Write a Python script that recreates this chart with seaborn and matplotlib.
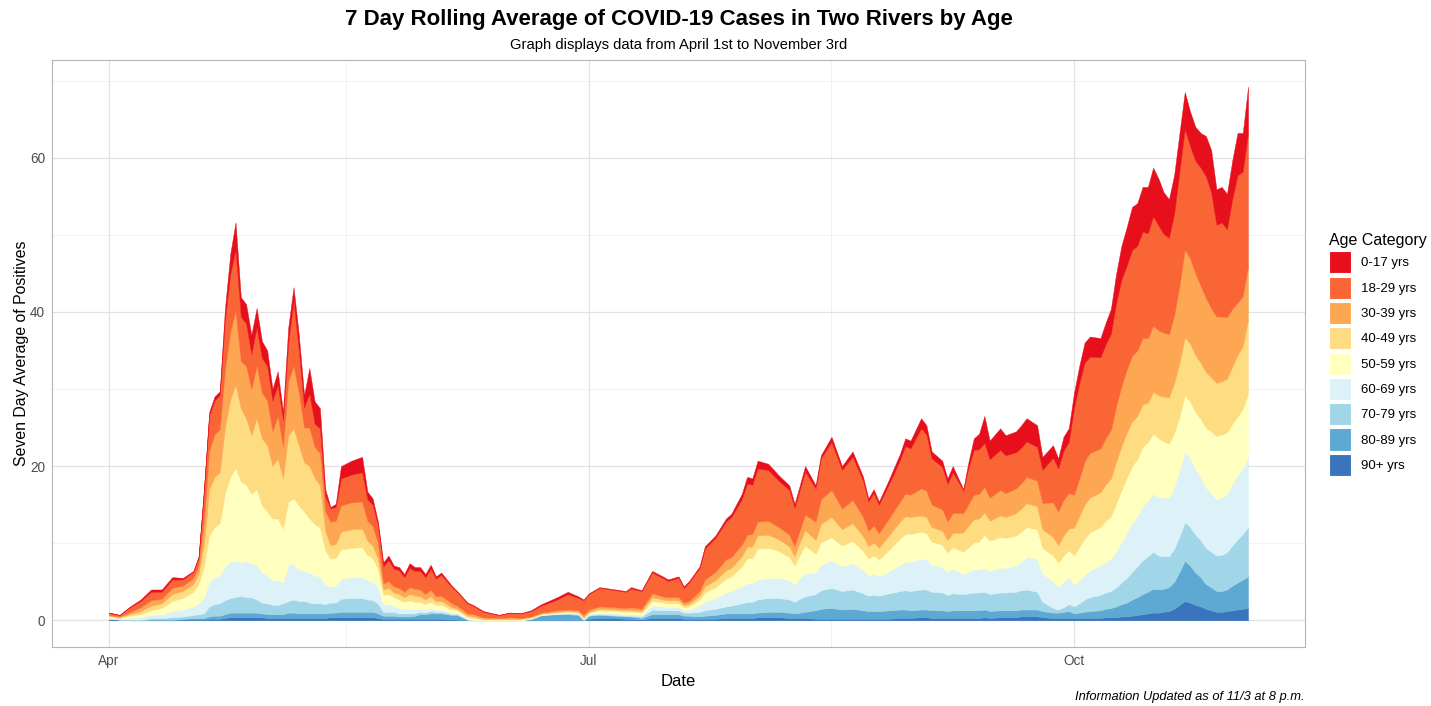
import matplotlib
matplotlib.use("Agg")

import pandas as pd
import matplotlib.pyplot as plt
from matplotlib.patches import Patch
import seaborn as sns

# -------------------------
# DATA
# -------------------------
start_date = "2020-04-01"

# days after April 1st
day_offsets = [
    0, 2, 4, 6, 8, 10, 12, 14, 16, 17,
    18, 19, 20, 21, 22, 23, 24, 25, 26, 27,
    28, 29, 30, 31, 32, 33, 34, 35, 36, 37,
    38, 39, 40, 41, 42, 43, 44, 46, 48, 49,
    50, 51, 52, 53, 54, 55, 56, 57, 58, 59,
    60, 61, 62, 63, 65, 66, 68, 69, 71, 74,
    76, 78, 80, 82, 85, 87, 89, 90, 91, 93,
    96, 98, 99, 101, 103, 105, 106, 108, 109, 110,
    112, 113, 115, 117, 118, 120, 121, 122, 123, 125,
    127, 129, 130, 131, 132, 134, 135, 137, 139, 141,
    143, 144, 145, 146, 148, 150, 151, 152, 154, 155,
    156, 158, 159, 160, 162, 163, 164, 165, 166, 167,
    169, 170, 172, 173, 174, 176, 177, 179, 180, 181,
    182, 183, 184, 185, 186, 188, 189, 190, 191, 192,
    193, 194, 195, 196, 197, 198, 199, 200, 201, 202,
    203, 204, 205, 206, 207, 208, 209, 210, 211, 212,
    213, 214, 215, 216,
]

age_90 = [
    .2, .1, 0, 0, 0, 0, 0, .1, .1, .1,
    .1, .2, .2, .2, .3, .4, .4, .4, .4, .4,
    .4, .4, .3, .3, .3, .3, .3, .3, .3, .3,
    .3, .3, .3, .3, .4, .4, .4, .4, .4, .4,
    .4, .3, .2, .2, .2, .2, .2, .2, .2, .2,
    .2, .2, .2, .2, .1, .1, 0, 0, 0, 0,
    0, 0, 0, 0, 0, 0, 0, 0, .2, .3,
    .3, .2, .2, .1, .3, .3, .3, .3, .2, .2,
    .2, .2, .2, .3, .3, .3, .3, .3, .4, .4,
    .4, .3, .3, .3, .3, .2, .2, .2, .2, .2,
    .2, .2, .2, .2, .2, .3, .3, .3, .4, .4,
    .3, .3, .3, .3, .3, .3, .3, .3, .4, .3,
    .4, .4, .4, .5, .5, .5, .4, .3, .3, .3,
    .3, .3, .3, .3, .3, .3, .4, .4, .4, .5,
    .5, .6, .7, .8, .9, 1.0, 1.0, 1.1, 1.2, 1.5,
    2.0, 2.5, 2.3, 2.0, 1.8, 1.5, 1.3, 1.1, 1.1, 1.2,
    1.3, 1.4, 1.5, 1.6,
]

age_80 = [
    0, 0, 0, 0, .1, .1, .1, .1, .2, .2,
    .2, .3, .4, .4, .5, .6, .6, .6, .6, .6,
    .6, .5, .5, .5, .5, .5, .7, .7, .6, .6,
    .6, .6, .6, .6, .6, .6, .7, .7, .7, .7,
    .7, .6, .4, .4, .4, .3, .3, .3, .4, .6,
    .6, .7, .7, .7, .6, .6, .1, 0, 0, 0,
    0, 0, .2, .7, .8, .8, .7, 0, .4, .4,
    .3, .3, .3, .2, .5, .5, .5, .5, .4, .4,
    .3, .4, .5, .6, .6, .6, .6, .6, .6, .7,
    .7, .7, .6, .7, .8, 1.1, 1.3, 1.4, 1.2, 1.3,
    1.1, 1.0, 1.0, 1.0, 1.1, 1.1, 1.1, 1.0, 1.0, 1.0,
    1.0, 1.0, .9, 1.0, 1.0, 1.0, 1.0, 1.0, 1.0, .9,
    .9, .9, .9, .9, .9, .9, .8, .7, .7, .8,
    .9, .6, .7, .8, .9, 1.0, 1.1, 1.2, 1.4, 1.6,
    1.8, 2.1, 2.3, 2.6, 2.8, 3.1, 3.0, 3.0, 3.1, 3.5,
    4.3, 5.2, 4.8, 4.2, 3.8, 3.2, 3.0, 2.7, 2.7, 2.8,
    3.2, 3.5, 3.8, 4.1,
]

age_70 = [
    0, 0, .1, .1, .2, .2, .3, .3, .4, .5,
    .6, 1.3, 1.5, 1.6, 1.8, 1.9, 2.0, 2.2, 2.0, 2.0,
    1.7, 1.4, 1.4, 1.2, 1.2, 1.4, 1.5, 1.7, 1.6, 1.6,
    1.4, 1.3, 1.3, 1.2, 1.3, 1.3, 1.7, 1.8, 1.8, 1.6,
    1.5, 1.3, .5, .5, .5, .4, .4, .4, .3, .3,
    .2, .3, .2, .2, .1, .1, 0, 0, 0, 0,
    0, 0, 0, 0, 0, .1, .1, .1, .1, .1,
    .1, .1, .1, .2, .6, .5, .5, .5, .4, .4,
    .6, .7, .8, .9, 1.0, 1.3, 1.5, 1.5, 1.7, 1.8,
    1.8, 1.7, 1.5, 1.8, 2.0, 2.1, 2.4, 2.6, 2.4, 2.5,
    2.2, 2.0, 2.1, 2.0, 2.2, 2.4, 2.5, 2.5, 2.6, 2.6,
    2.4, 2.3, 2.1, 2.2, 2.1, 2.2, 2.3, 2.3, 2.3, 2.2,
    2.3, 2.3, 2.4, 2.5, 2.6, 2.3, 1.2, .6, .4, .6,
    .9, .9, 1.2, 1.6, 1.8, 2.0, 2.1, 2.2, 2.5, 2.8,
    3.2, 3.6, 4.0, 4.4, 4.6, 4.8, 4.4, 4.2, 4.0, 4.3,
    4.6, 5.0, 5.0, 4.9, 4.8, 4.7, 4.6, 4.6, 4.7, 4.8,
    5.2, 5.6, 5.9, 6.4,
]

age_60 = [
    .1, .1, .2, .3, .4, .5, .8, .9, 1.1, 1.4,
    2.0, 3.2, 3.5, 3.6, 4.4, 4.7, 4.7, 4.3, 4.7, 4.3,
    4.5, 3.9, 3.6, 3.2, 3.2, 2.7, 4.7, 4.6, 4.1, 3.9,
    3.9, 3.6, 3.5, 2.5, 2.1, 2.2, 2.6, 2.7, 2.7, 2.5,
    2.4, 2.1, 1.0, 1.0, .8, .7, .6, .6, .5, .4,
    .4, .4, .3, .3, .2, .2, .1, .1, 0, 0,
    0, 0, 0, 0, .1, .1, .1, .1, .1, .2,
    .2, .2, .2, .2, .5, .5, .4, .4, .3, .4,
    .8, 1.1, 1.4, 1.8, 1.9, 2.2, 2.4, 2.4, 2.6, 2.6,
    2.6, 2.5, 2.2, 2.7, 3.0, 2.8, 3.3, 3.6, 3.2, 3.4,
    3.0, 2.6, 2.7, 2.5, 2.9, 3.4, 3.7, 3.8, 4.0, 3.9,
    3.5, 3.3, 3.0, 3.2, 2.6, 2.8, 3.0, 3.0, 3.1, 3.0,
    3.2, 3.2, 3.4, 3.7, 4.2, 4.3, 3.7, 3.4, 3.0, 3.3,
    3.5, 2.8, 3.0, 3.2, 3.5, 3.8, 4.0, 4.2, 4.7, 5.2,
    5.8, 6.3, 6.5, 7.0, 7.2, 7.5, 7.6, 7.6, 7.6, 8.0,
    8.5, 9.2, 9.0, 8.5, 8.2, 7.8, 7.6, 7.3, 7.4, 7.6,
    8.0, 8.3, 8.5, 9.1,
]

age_50 = [
    .2, .1, .3, .4, .6, .8, 1.3, 1.5, 1.9, 2.5,
    4.0, 6.0, 6.5, 6.8, 9.5, 11.0, 12.0, 10.5, 9.9, 9.1,
    9.8, 8.7, 8.3, 8.0, 8.0, 7.0, 8.2, 8.5, 8.3, 7.7,
    7.0, 6.7, 6.3, 4.5, 3.6, 3.6, 3.8, 3.8, 3.9, 3.3,
    3.0, 2.4, 1.2, 1.3, 1.1, 1.1, .9, 1.1, 1.0, .9,
    .7, .8, .6, .6, .4, .3, .2, .2, .1, .1,
    .1, .1, .1, .1, .1, .1, .1, .1, .2, .3,
    .3, .3, .3, .3, .6, .5, .5, .5, .4, .4,
    .8, 1.2, 1.4, 1.8, 1.9, 2.6, 3.2, 3.3, 4.0, 3.9,
    3.5, 3.0, 2.5, 3.0, 3.6, 2.4, 2.9, 3.0, 2.7, 2.9,
    2.5, 2.2, 2.4, 2.2, 2.8, 3.4, 3.6, 3.6, 3.5, 3.4,
    3.0, 2.9, 2.5, 2.8, 2.9, 3.2, 3.5, 3.6, 4.3, 3.9,
    4.0, 3.9, 3.9, 3.9, 3.9, 3.8, 3.3, 3.4, 3.1, 3.4,
    3.5, 3.8, 4.3, 4.7, 4.9, 5.0, 5.3, 5.5, 6.2, 6.8,
    7.2, 7.4, 7.4, 7.7, 7.6, 7.8, 7.6, 7.3, 7.0, 7.0,
    7.0, 7.3, 7.3, 7.4, 7.5, 7.8, 8.0, 8.2, 8.2, 8.0,
    7.8, 7.6, 7.8, 8.2,
]

age_40 = [
    .1, .1, .2, .4, .6, .6, .9, .9, 1.0, 1.4,
    3.0, 6.0, 6.5, 6.6, 8.5, 10.0, 10.8, 9.5, 8.6, 7.6,
    9.2, 8.7, 8.6, 6.8, 7.8, 6.5, 8.6, 9.1, 7.8, 6.4,
    6.8, 6.0, 5.5, 2.5, 1.7, 1.8, 2.3, 2.4, 2.4, 1.8,
    1.7, 1.3, .7, .8, .6, .7, .6, .8, .8, .7,
    .6, .7, .5, .5, .3, .2, .2, .2, .1, .1,
    .1, .1, .1, .1, .1, .1, .1, .1, .1, .2,
    .2, .2, .2, .2, .5, .4, .4, .4, .3, .3,
    .5, .8, .9, 1.1, 1.1, 1.3, 1.5, 1.5, 1.7, 1.7,
    1.5, 1.4, 1.2, 1.6, 2.0, 1.8, 2.4, 2.6, 2.1, 2.3,
    1.9, 1.6, 1.7, 1.5, 1.9, 2.2, 2.3, 2.2, 2.1, 2.1,
    1.9, 1.8, 1.6, 1.8, 2.5, 2.8, 3.0, 3.0, 2.9, 2.6,
    2.8, 2.7, 2.9, 3.0, 3.1, 3.0, 2.4, 2.4, 2.2, 2.6,
    2.8, 3.6, 4.0, 4.4, 4.5, 4.5, 4.7, 4.9, 5.4, 5.7,
    5.8, 5.8, 5.6, 5.5, 5.1, 5.4, 5.6, 5.8, 6.0, 6.5,
    7.0, 7.5, 7.5, 7.4, 7.3, 7.2, 7.0, 6.9, 6.9, 6.9,
    7.4, 8.0, 8.0, 9.6,
]

age_30 = [
    .1, .1, .3, .5, .7, .6, .8, .7, .8, 1.0,
    3.0, 5.0, 5.5, 5.6, 7.5, 8.8, 9.6, 6.1, 6.8, 6.0,
    6.8, 5.9, 5.8, 4.5, 5.5, 4.1, 7.0, 8.1, 6.8, 4.5,
    5.0, 4.0, 4.2, 2.5, 3.1, 3.0, 3.4, 3.5, 3.5, 2.6,
    2.5, 2.0, .8, .9, .8, .8, .7, .9, .9, .9,
    .7, .9, .6, .7, .5, .4, .3, .3, .2, .1,
    .2, .1, .1, .1, .2, .2, .2, .3, .3, .3,
    .3, .3, .4, .3, .5, .4, .4, .4, .3, .4,
    .6, .9, 1.1, 1.4, 1.4, 1.5, 1.6, 1.6, 1.8, 1.8,
    1.6, 1.5, 1.3, 1.6, 2.0, 2.4, 3.2, 3.5, 2.7, 3.0,
    2.5, 2.0, 2.2, 1.9, 2.2, 2.6, 2.9, 2.9, 3.5, 3.4,
    2.9, 2.8, 2.4, 2.6, 2.5, 2.8, 3.2, 3.2, 3.3, 3.0,
    3.3, 3.1, 3.2, 3.3, 3.4, 3.3, 3.4, 4.5, 4.4, 4.6,
    4.6, 4.3, 4.9, 5.6, 5.8, 5.7, 6.0, 6.3, 7.2, 7.8,
    8.2, 8.5, 8.5, 8.6, 8.4, 8.6, 8.4, 8.3, 8.2, 8.8,
    10.0, 11.4, 11.0, 10.6, 10.0, 9.6, 9.0, 8.6, 8.4, 8.0,
    7.5, 6.8, 6.5, 7.0,
]

age_18 = [
    .3, .2, .6, .8, 1.1, .9, 1.1, .8, .8, 1.1,
    3.8, 4.5, 4.4, 4.4, 6.5, 7.5, 7.9, 5.8, 5.5, 4.5,
    5.0, 4.5, 4.5, 4.0, 4.0, 3.5, 5.0, 8.4, 5.5, 2.6,
    4.4, 3.0, 3.2, 2.0, 1.7, 1.8, 3.5, 3.6, 3.8, 2.8,
    2.8, 2.3, 2.2, 2.7, 2.3, 2.3, 1.9, 2.5, 2.3, 2.4,
    2.2, 2.7, 2.3, 2.7, 2.1, 1.8, 1.3, 1.1, .7, .4,
    .6, .6, .7, .9, 1.4, 2.0, 1.6, 1.9, 2.0, 2.4,
    2.2, 2.1, 2.4, 2.3, 2.7, 2.4, 2.1, 2.5, 1.9, 2.4,
    3.0, 4.0, 4.4, 4.9, 5.2, 5.9, 6.6, 6.4, 6.9, 6.6,
    6.0, 5.8, 5.0, 5.2, 5.6, 4.3, 5.3, 6.2, 5.0, 5.6,
    4.7, 3.8, 4.2, 3.7, 4.5, 5.4, 6.2, 6.0, 7.8, 7.3,
    6.0, 5.5, 4.9, 5.3, 2.9, 4.7, 5.8, 5.8, 5.7, 5.0,
    5.2, 4.9, 4.7, 4.6, 4.6, 4.4, 4.3, 5.8, 5.6, 6.4,
    6.6, 11.2, 12.3, 12.8, 12.5, 11.8, 12.2, 12.5, 13.4, 13.8,
    13.5, 13.7, 13.6, 13.8, 13.6, 14.2, 13.6, 12.8, 12.5, 13.2,
    14.8, 15.6, 14.6, 14.6, 15.3, 15.8, 15.0, 11.9, 12.2, 11.4,
    14.2, 16.5, 16.2, 17.2,
]

age_0 = [
    0, 0, .1, .2, .3, .3, .3, .2, .1, .1,
    .3, .5, .5, .5, 1.5, 2.6, 3.6, 2.5, 2.5, 2.5,
    2.5, 2.2, 2.0, 1.5, 1.8, 1.0, 2.0, 1.8, 2.0, 1.6,
    3.3, 2.9, 2.6, .9, .2, .4, 1.6, 1.8, 2.0, 1.0,
    .8, .5, .5, .6, .4, .4, .4, .6, .5, .5,
    .4, .5, .3, .3, .2, .1, .1, .1, .1, 0,
    0, 0, .1, .2, .3, .3, .2, .1, .1, .1,
    .1, .1, .2, .1, .2, .2, .2, .2, .2, .2,
    .2, .3, .3, .4, .4, .7, .9, .8, 1.0, .8,
    .7, .6, .5, .6, .7, .4, .4, .7, .5, .7,
    .5, .4, .5, .4, .6, .8, 1.0, 1.0, 1.3, 1.2,
    .9, .8, .7, .8, .2, .8, 1.5, 2.0, 3.5, 2.4,
    2.8, 2.6, 2.7, 2.9, 3.0, 2.8, 1.7, 1.6, 1.3, 1.8,
    1.8, 2.0, 2.3, 2.6, 2.6, 2.5, 2.8, 3.2, 3.8, 4.4,
    5.0, 5.6, 5.5, 5.8, 6.0, 6.3, 6.1, 5.4, 5.0, 5.0,
    5.0, 4.8, 4.5, 4.4, 4.5, 5.2, 5.5, 4.6, 4.6, 4.6,
    5.0, 5.5, 5.0, 6.0,
]

# legend order (top of stack first)
age_labels = [
    "0-17 yrs", "18-29 yrs", "30-39 yrs", "40-49 yrs", "50-59 yrs",
    "60-69 yrs", "70-79 yrs", "80-89 yrs", "90+ yrs",
]
age_colors = [
    "#E60F1B", "#FA6535", "#FDA753", "#FEDC82", "#FFFFBF",
    "#DDF1F8", "#A0D6E7", "#5EA9D4", "#3974BC",
]
x_tick_labels = ["Apr", "Jul", "Oct"]
y_ticks = [0, 20, 40, 60]

series = [age_0, age_18, age_30, age_40, age_50,
          age_60, age_70, age_80, age_90]
for s in series:
    assert len(s) == len(day_offsets)

# -------------------------
# PLOT
# -------------------------
sns.set_theme(style="whitegrid")
plt.rcParams["font.family"] = ["Liberation Sans", "DejaVu Sans"]
plt.rcParams["text.color"] = "black"
plt.rcParams["axes.labelcolor"] = "black"

palette = sns.color_palette(age_colors)

start = pd.Timestamp(start_date)
dates = start + pd.to_timedelta(day_offsets, unit="D")

W, H = 1431, 706
fig = plt.figure(figsize=(W / 100, H / 100), dpi=100)
fig.patch.set_facecolor("white")

ax = fig.add_axes([
    52 / W,
    1 - 647 / H,
    (1305 - 52) / W,
    (647 - 60) / H,
])
ax.set_facecolor("white")

# stack from the oldest group at the bottom
polys = ax.stackplot(
    dates,
    *series[::-1],
    colors=palette[::-1],
    zorder=2,
)
for poly, col in zip(polys, palette[::-1]):
    poly.set_edgecolor(col)
    poly.set_linewidth(0.3)

# axis ranges with ggplot-like padding
span = max(day_offsets)
ax.set_xlim(start - pd.Timedelta(days=span * 0.05),
            start + pd.Timedelta(days=span * 1.05))
totals = [sum(v) for v in zip(*series)]
ymax = max(totals)
ax.set_ylim(-ymax * 0.05, ymax * 1.05)

major_x = [pd.Timestamp("2020-04-01"), pd.Timestamp("2020-07-01"),
           pd.Timestamp("2020-10-01")]
minor_x = [pd.Timestamp("2020-05-16"), pd.Timestamp("2020-08-16")]
ax.set_xticks(major_x)
ax.set_xticklabels(x_tick_labels)
ax.set_xticks(minor_x, minor=True)
ax.set_yticks(y_ticks)
ax.set_yticks([10, 30, 50, 70], minor=True)

ax.grid(which="major", color="#E2E2E2", linewidth=0.9, zorder=0)
ax.grid(which="minor", color="#F0F0F0", linewidth=0.6, zorder=0)
ax.set_axisbelow(True)

for sp in ax.spines.values():
    sp.set_visible(True)
    sp.set_color("#B5B5B5")
    sp.set_linewidth(0.8)

ax.tick_params(axis="both", which="major", length=3, width=0.6,
               color="#B5B5B5", labelsize=9.8, labelcolor="#4D4D4D", pad=2)
ax.tick_params(axis="both", which="minor", length=0)

ax.set_xlabel("Date", fontsize=12, color="black", labelpad=4)
ax.set_ylabel("Seven Day Average of Positives", fontsize=11.4,
              color="black", labelpad=1)

# titles
cx = (52 + 1305) / 2 / W
fig.text(cx, 1 - 20 / H, "7 Day Rolling Average of COVID-19 Cases in Two Rivers by Age",
         ha="center", va="center", fontsize=16, fontweight="bold",
         color="black")
fig.text(cx, 1 - 45 / H, "Graph displays data from April 1st to November 3rd",
         ha="center", va="center", fontsize=10.6, color="black")
fig.text(1305 / W, 1 - 697 / H, "Information Updated as of 11/3 at 8 p.m.",
         ha="right", va="center", fontsize=9.3, style="italic",
         color="black")

# legend
handles = [Patch(facecolor=c, edgecolor="white", linewidth=0.8) for c in palette]
leg = fig.legend(
    handles, age_labels,
    title="Age Category",
    loc="upper left",
    bbox_to_anchor=(1329 / W, 1 - 233 / H),
    frameon=False,
    fontsize=9.5,
    title_fontsize=11.5,
    handlelength=1.67,
    handleheight=2.19,
    labelspacing=0.25,
    handletextpad=0.75,
    borderpad=0,
    borderaxespad=0,
    alignment="left",
)
for t in leg.get_texts():
    t.set_color("black")
leg.get_title().set_color("black")

plt.savefig("out.png", dpi=100, facecolor="white")
